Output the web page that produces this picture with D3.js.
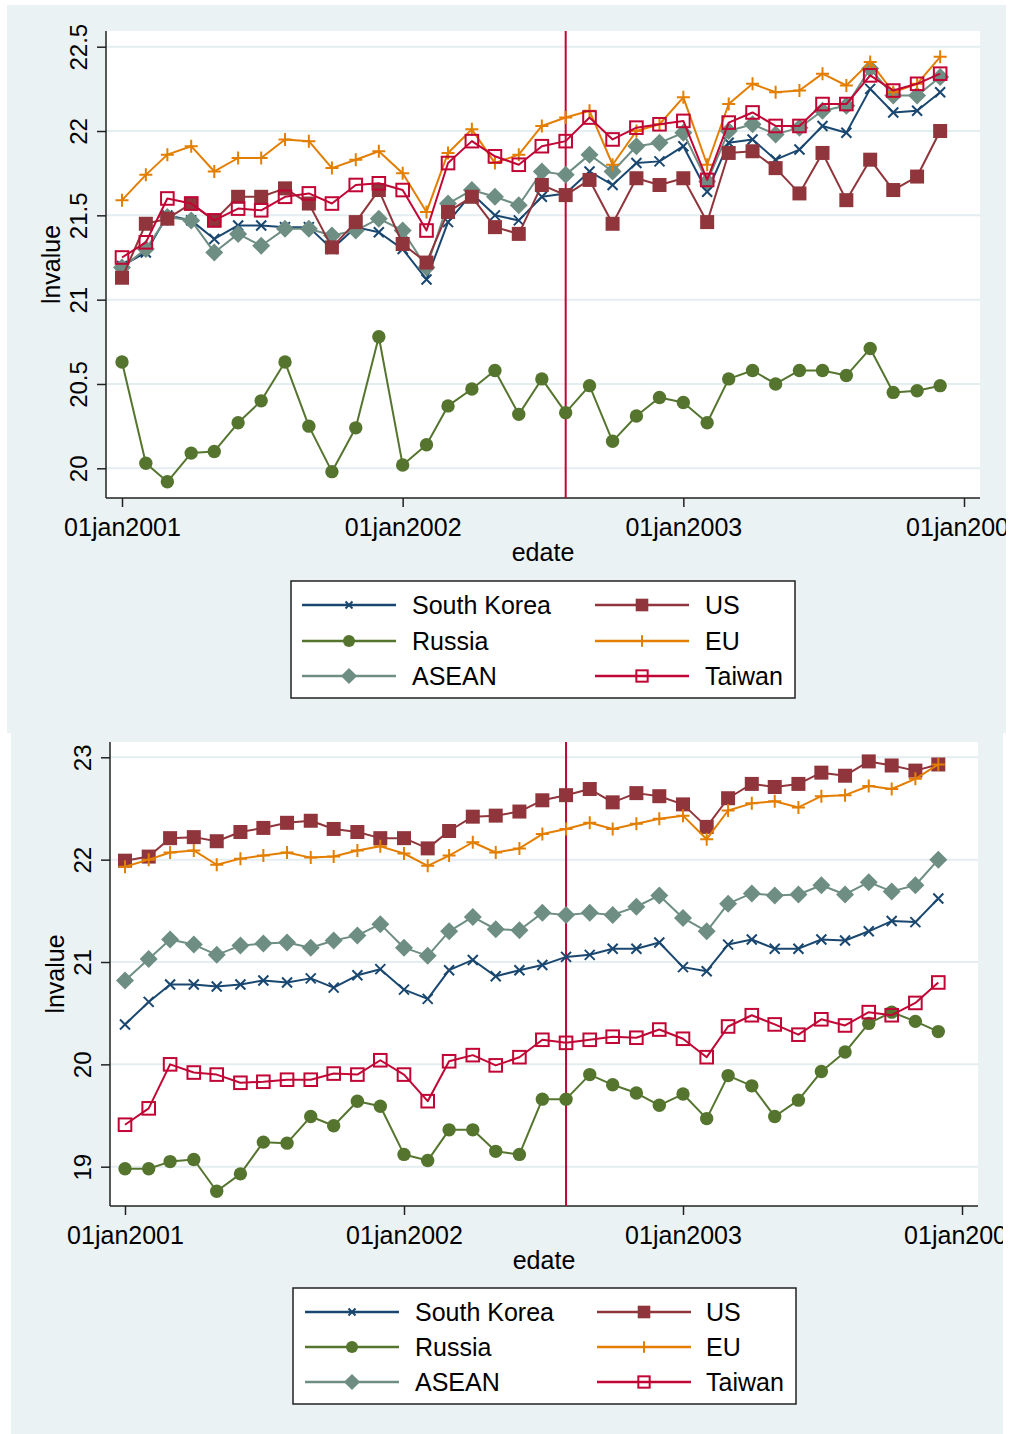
<!DOCTYPE html>
<html>
<head>
<meta charset="utf-8">
<script src="https://d3js.org/d3.v7.min.js"></script>
<style>
  body { margin: 0; background: #ffffff; }
  text { font-family: "Liberation Sans", Arial, sans-serif; fill: #000; }
</style>
</head>
<body>
<svg id="chart" width="1011" height="1434"></svg>
<script>
var months = [
  "2001-01", "2001-02", "2001-03", "2001-04", "2001-05", "2001-06",
  "2001-07", "2001-08", "2001-09", "2001-10", "2001-11", "2001-12",
  "2002-01", "2002-02", "2002-03", "2002-04", "2002-05", "2002-06",
  "2002-07", "2002-08", "2002-09", "2002-10", "2002-11", "2002-12",
  "2003-01", "2003-02", "2003-03", "2003-04", "2003-05", "2003-06",
  "2003-07", "2003-08", "2003-09", "2003-10", "2003-11", "2003-12"
];
var seriesNames = ["South Korea", "Russia", "ASEAN", "US", "EU", "Taiwan"];
var seriesColors = ["#1a476f", "#55752f", "#6e8e84", "#90353b", "#e37e00", "#c10534"];
var seriesMarkers = ["x", "circle", "diamond", "square", "plus", "hollow"];
var xTickDates = ["2001-01", "2002-01", "2003-01", "2004-01"];
var eventDate = "2002-08";

// top panel
var topSK = [21.20, 21.28, 21.50, 21.47, 21.36, 21.44, 21.44, 21.43, 21.43, 21.30, 21.43, 21.40,
  21.30, 21.12, 21.46, 21.63, 21.50, 21.47, 21.61, 21.63, 21.76, 21.68, 21.81, 21.82,
  21.91, 21.64, 21.93, 21.95, 21.83, 21.89, 22.03, 21.99, 22.25, 22.11, 22.12, 22.23];
var topRussia = [20.63, 20.03, 19.92, 20.09, 20.10, 20.27, 20.40, 20.63, 20.25, 19.98, 20.24, 20.78,
  20.02, 20.14, 20.37, 20.47, 20.58, 20.32, 20.53, 20.33, 20.49, 20.16, 20.31, 20.42,
  20.39, 20.27, 20.53, 20.58, 20.50, 20.58, 20.58, 20.55, 20.71, 20.45, 20.46, 20.49];
var topASEAN = [21.19, 21.30, 21.49, 21.47, 21.28, 21.39, 21.32, 21.42, 21.42, 21.38, 21.41, 21.48,
  21.41, 21.19, 21.57, 21.65, 21.61, 21.56, 21.76, 21.74, 21.86, 21.76, 21.91, 21.93,
  21.99, 21.70, 22.00, 22.04, 21.98, 22.02, 22.12, 22.15, 22.37, 22.21, 22.21, 22.32];
var topUS = [21.13, 21.45, 21.48, 21.57, 21.47, 21.61, 21.61, 21.66, 21.57, 21.31, 21.46, 21.65,
  21.33, 21.22, 21.52, 21.61, 21.43, 21.39, 21.68, 21.62, 21.71, 21.45, 21.72, 21.68,
  21.72, 21.46, 21.87, 21.88, 21.78, 21.63, 21.87, 21.59, 21.83, 21.65, 21.73, 22.00];
var topEU = [21.59, 21.74, 21.86, 21.91, 21.76, 21.84, 21.84, 21.95, 21.94, 21.78, 21.83, 21.88,
  21.75, 21.52, 21.87, 22.01, 21.81, 21.86, 22.03, 22.08, 22.12, 21.80, 22.00, 22.04,
  22.20, 21.80, 22.16, 22.28, 22.23, 22.24, 22.34, 22.27, 22.41, 22.23, 22.28, 22.44];
var topTaiwan = [21.25, 21.34, 21.60, 21.57, 21.47, 21.54, 21.53, 21.61, 21.63, 21.57, 21.68, 21.69,
  21.65, 21.41, 21.81, 21.94, 21.85, 21.80, 21.91, 21.94, 22.08, 21.95, 22.02, 22.04,
  22.06, 21.71, 22.05, 22.11, 22.03, 22.03, 22.16, 22.16, 22.33, 22.24, 22.28, 22.34];
var topTicks = [20, 20.5, 21, 21.5, 22, 22.5];

// bottom panel
var botSK = [20.39, 20.61, 20.78, 20.78, 20.76, 20.78, 20.82, 20.80, 20.84, 20.75, 20.87, 20.93,
  20.73, 20.64, 20.92, 21.02, 20.86, 20.92, 20.97, 21.05, 21.07, 21.13, 21.13, 21.19,
  20.95, 20.91, 21.17, 21.22, 21.13, 21.13, 21.22, 21.21, 21.30, 21.40, 21.39, 21.62];
var botRussia = [18.98, 18.98, 19.05, 19.07, 18.76, 18.93, 19.24, 19.23, 19.49, 19.40, 19.64, 19.59,
  19.12, 19.06, 19.36, 19.36, 19.15, 19.12, 19.66, 19.66, 19.90, 19.80, 19.72, 19.60,
  19.71, 19.47, 19.89, 19.79, 19.49, 19.65, 19.93, 20.12, 20.40, 20.51, 20.42, 20.32];
var botASEAN = [20.82, 21.03, 21.22, 21.17, 21.07, 21.16, 21.18, 21.19, 21.14, 21.21, 21.26, 21.37,
  21.14, 21.06, 21.30, 21.44, 21.32, 21.31, 21.48, 21.46, 21.48, 21.46, 21.54, 21.65,
  21.43, 21.30, 21.57, 21.67, 21.65, 21.66, 21.75, 21.66, 21.78, 21.69, 21.75, 22.00];
var botUS = [21.99, 22.03, 22.21, 22.22, 22.18, 22.27, 22.31, 22.36, 22.38, 22.30, 22.27, 22.21,
  22.21, 22.11, 22.28, 22.42, 22.43, 22.47, 22.58, 22.63, 22.69, 22.56, 22.65, 22.62,
  22.54, 22.32, 22.60, 22.74, 22.71, 22.74, 22.85, 22.82, 22.96, 22.92, 22.87, 22.93];
var botEU = [21.93, 22.00, 22.07, 22.09, 21.95, 22.01, 22.04, 22.07, 22.02, 22.03, 22.09, 22.13,
  22.06, 21.94, 22.04, 22.17, 22.07, 22.11, 22.25, 22.30, 22.36, 22.30, 22.35, 22.40,
  22.43, 22.20, 22.48, 22.55, 22.57, 22.51, 22.62, 22.63, 22.72, 22.69, 22.79, 22.93];
var botTaiwan = [19.41, 19.57, 20.00, 19.92, 19.90, 19.82, 19.83, 19.85, 19.85, 19.91, 19.90, 20.04,
  19.90, 19.64, 20.03, 20.09, 19.99, 20.07, 20.24, 20.21, 20.24, 20.27, 20.26, 20.34,
  20.25, 20.07, 20.37, 20.48, 20.39, 20.29, 20.44, 20.38, 20.51, 20.48, 20.60, 20.80];
var botTicks = [19, 20, 21, 22, 23];

var parseMonth = d3.timeParse("%Y-%m");
var dates = months.map(parseMonth);
var svg = d3.select("#chart");
var defs = svg.append("defs");

function drawMarker(sel, type, color, k) {
  if (type == "circle") {
    sel.append("circle").attr("r", 6.7 * k).attr("fill", color);
  } else if (type == "square") {
    sel.append("rect").attr("x", -7 * k).attr("y", -7 * k)
      .attr("width", 14 * k).attr("height", 14 * k).attr("fill", color);
  } else if (type == "hollow") {
    sel.append("rect").attr("x", -6.3 * k).attr("y", -6.3 * k)
      .attr("width", 12.6 * k).attr("height", 12.6 * k)
      .attr("fill", "none").attr("stroke", color).attr("stroke-width", 2);
  } else if (type == "diamond") {
    var s = 9 * k;
    sel.append("path").attr("d", "M0," + -s + "L" + s + ",0L0," + s + "L" + -s + ",0Z")
      .attr("fill", color);
  } else if (type == "x") {
    var a = 5 * k;
    sel.append("path").attr("d", "M" + -a + "," + -a + "L" + a + "," + a + "M" + -a + "," + a + "L" + a + "," + -a)
      .attr("stroke", color).attr("stroke-width", 2);
  } else if (type == "plus") {
    var p = 6.5 * k;
    sel.append("path").attr("d", "M" + -p + ",0L" + p + ",0M0," + -p + "L0," + p)
      .attr("stroke", color).attr("stroke-width", 2);
  }
}

function drawPanel(cfg) {
  // the exported graph cuts everything at its own edge
  defs.append("clipPath").attr("id", cfg.id)
    .append("rect").attr("x", cfg.bg[0]).attr("y", cfg.bg[1])
    .attr("width", cfg.bg[2]).attr("height", cfg.bg[3]);
  var g = svg.append("g").attr("clip-path", "url(#" + cfg.id + ")");

  // panel background + plot region
  g.append("rect").attr("x", cfg.bg[0]).attr("y", cfg.bg[1])
    .attr("width", cfg.bg[2]).attr("height", cfg.bg[3]).attr("fill", "#eaf2f3");
  g.append("rect").attr("x", cfg.left).attr("y", cfg.top)
    .attr("width", cfg.right - cfg.left).attr("height", cfg.bottom - cfg.top).attr("fill", "#ffffff");

  var x = d3.scaleTime()
    .domain([parseMonth(xTickDates[0]), parseMonth(xTickDates[3])])
    .range(cfg.xRange);
  var y = d3.scaleLinear().domain(cfg.yDomain).range(cfg.yRange);

  // grid
  g.selectAll(".grid").data(cfg.ticks).enter().append("line")
    .attr("x1", cfg.left).attr("x2", cfg.right)
    .attr("y1", (d) => y(d)).attr("y2", (d) => y(d))
    .attr("stroke", "#e4edef").attr("stroke-width", 2);

  // y axis
  var yAxis = g.append("g").attr("transform", "translate(" + cfg.left + ",0)")
    .call(d3.axisLeft(y).tickValues(cfg.ticks).tickSize(9).tickFormat(d3.format("~g")));
  yAxis.select(".domain").attr("d", "M0," + cfg.top + "V" + cfg.bottom)
    .attr("stroke", "#222").attr("stroke-width", 1.5);
  yAxis.selectAll(".tick line").attr("stroke", "#222").attr("stroke-width", 1.5);
  yAxis.selectAll(".tick text")
    .attr("x", null).attr("dy", null)
    .attr("transform", "translate(-19,0) rotate(-90)")
    .attr("text-anchor", "middle")
    .style("font-size", "24px").style("font-family", "Liberation Sans, Arial, sans-serif").attr("fill", "#000");

  // x axis
  var xAxis = g.append("g").attr("transform", "translate(0," + cfg.bottom + ")")
    .call(d3.axisBottom(x).tickValues(xTickDates.map(parseMonth)).tickSize(9)
      .tickFormat((d) => d3.timeFormat("%d%b%Y")(d).toLowerCase()));
  xAxis.select(".domain").attr("d", "M" + cfg.left + ",0H" + cfg.right)
    .attr("stroke", "#222").attr("stroke-width", 1.5);
  xAxis.selectAll(".tick line").attr("stroke", "#222").attr("stroke-width", 1.5);
  xAxis.selectAll(".tick text").attr("y", 38).attr("dy", null)
    .style("font-size", "25px").style("font-family", "Liberation Sans, Arial, sans-serif").attr("fill", "#000");

  // axis titles
  g.append("text")
    .attr("transform", "translate(" + (cfg.left - 46) + "," + (cfg.top + cfg.bottom) / 2 + ") rotate(-90)")
    .attr("text-anchor", "middle").style("font-size", "25px").text("lnvalue");
  g.append("text").attr("x", (cfg.left + cfg.right) / 2).attr("y", cfg.bottom + 63)
    .attr("text-anchor", "middle").style("font-size", "25px").text("edate");

  // event line
  g.append("line")
    .attr("x1", x(parseMonth(eventDate))).attr("x2", x(parseMonth(eventDate)))
    .attr("y1", cfg.top).attr("y2", cfg.bottom)
    .attr("stroke", "#c10534").attr("stroke-width", 2);

  // series
  var line = d3.line().x((d, i) => x(dates[i])).y((d) => y(d));
  cfg.series.forEach(function (vals, i) {
    g.append("path").datum(vals).attr("d", line)
      .attr("fill", "none").attr("stroke", seriesColors[i]).attr("stroke-width", 2)
      .attr("stroke-linejoin", "round");
    var pts = g.selectAll(".pt" + i).data(vals).enter().append("g")
      .attr("class", "pt" + i)
      .attr("transform", (d, j) => "translate(" + x(dates[j]) + "," + y(d) + ")");
    drawMarker(pts, seriesMarkers[i], seriesColors[i], 1);
  });

  // legend
  var lg = cfg.legend;
  g.append("rect").attr("x", lg.x).attr("y", lg.y).attr("width", lg.w).attr("height", lg.h)
    .attr("fill", "#ffffff").attr("stroke", "#222").attr("stroke-width", 1.5);
  seriesNames.forEach(function (name, i) {
    var col = Math.floor(i / 3), row = i % 3;
    var x0 = lg.lineX[col], ly = lg.rows[row];
    g.append("line").attr("x1", x0).attr("x2", x0 + 94).attr("y1", ly).attr("y2", ly)
      .attr("stroke", seriesColors[i]).attr("stroke-width", 2.5);
    var m = g.append("g").attr("transform", "translate(" + (x0 + 47) + "," + ly + ")");
    drawMarker(m, seriesMarkers[i], seriesColors[i], i == 0 ? 0.7 : 0.9);
    g.append("text").attr("x", lg.textX[col]).attr("y", ly + 9).style("font-size", "25px").text(name);
  });
}

drawPanel({
  id: "clipTop",
  bg: [7, 5, 999, 728],
  left: 106, right: 980, top: 31, bottom: 498,
  xRange: [122, 964],
  yDomain: [20, 22.5], yRange: [468.3, 46.7],
  ticks: topTicks,
  series: [topSK, topRussia, topASEAN, topUS, topEU, topTaiwan],
  legend: { x: 291, y: 581, w: 504, h: 117, lineX: [302, 595], textX: [412, 705], rows: [605, 641, 676] }
});

drawPanel({
  id: "clipBottom",
  bg: [11, 733, 992, 701],
  left: 110, right: 978, top: 742, bottom: 1206,
  xRange: [125, 962],
  yDomain: [19, 23], yRange: [1166.7, 757.3],
  ticks: botTicks,
  series: [botSK, botRussia, botASEAN, botUS, botEU, botTaiwan],
  legend: { x: 293, y: 1288, w: 503, h: 116, lineX: [305, 597], textX: [415, 706], rows: [1312, 1347, 1382] }
});
</script>
</body>
</html>
